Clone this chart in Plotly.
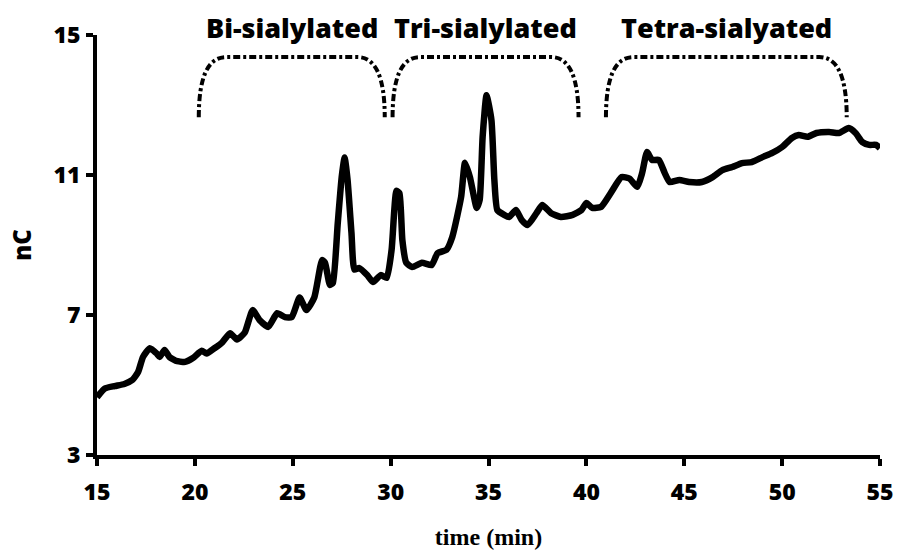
import plotly.graph_objects as go

# Chromatogram: detector response (nC) against retention time (min)
time_min = [15.0, 15.4, 15.9, 16.4, 16.8, 17.1, 17.35, 17.7, 18.05, 18.2, 18.45, 18.7, 19.1, 19.5,
            19.9, 20.35, 20.6, 21.0, 21.4, 21.8, 22.15, 22.55, 22.95, 23.3, 23.75, 24.2, 24.6, 24.95,
            25.35, 25.7, 26.1, 26.5, 26.65, 26.9, 27.05, 27.3, 27.5, 27.65, 27.8, 28.0, 28.15, 28.4,
            28.8, 29.1, 29.5, 29.8, 30.05, 30.3, 30.45, 30.6, 30.8, 31.1, 31.6, 32.1, 32.4, 32.85,
            33.15, 33.6, 33.8, 34.05, 34.4, 34.55, 34.7, 34.9, 35.15, 35.3, 35.45, 35.8, 36.05, 36.4,
            36.7, 37.0, 37.45, 37.75, 38.2, 38.7, 39.3, 39.75, 40.0, 40.3, 40.75, 41.25, 41.8, 42.2,
            42.6, 42.85, 43.1, 43.35, 43.7, 44.0, 44.25, 44.75, 45.25, 45.9, 46.45, 46.95, 47.45,
            47.95, 48.45, 49.0, 49.5, 50.0, 50.5, 50.85, 51.3, 51.75, 52.4, 52.9, 53.4, 53.75, 54.1,
            54.45, 54.8, 55.0]
signal_nc = [4.65, 4.9, 4.97, 5.03, 5.14, 5.37, 5.8, 6.05, 5.9, 5.8, 6.0, 5.8, 5.68, 5.66,
             5.77, 5.98, 5.9, 6.05, 6.22, 6.48, 6.3, 6.5, 7.14, 6.86, 6.66, 7.05, 6.94, 6.94,
             7.5, 7.14, 7.5, 8.57, 8.49, 7.86, 7.92, 9.63, 10.94, 11.5, 10.86, 9.34, 8.3, 8.34,
             8.14, 7.94, 8.14, 8.06, 8.86, 10.55, 10.48, 9.14, 8.49, 8.37, 8.49, 8.43, 8.77, 8.86,
             9.23, 10.37, 11.35, 10.94, 10.06, 10.29, 12.09, 13.28, 12.57, 10.86, 10.0, 9.86, 9.8, 10.0,
             9.71, 9.57, 9.91, 10.14, 9.91, 9.8, 9.86, 10.0, 10.2, 10.06, 10.09, 10.49, 10.94, 10.9,
             10.66, 11.06, 11.66, 11.43, 11.43, 11.06, 10.8, 10.86, 10.8, 10.8, 10.94, 11.14, 11.23,
             11.34, 11.37, 11.51, 11.63, 11.8, 12.06, 12.14, 12.09, 12.2, 12.23, 12.2, 12.34, 12.2, 11.94,
             11.86, 11.86, 11.77]

# Elution windows of the glycan groups
region_names = ["Bi-sialylated", "Tri-sialylated", "Tetra-sialyated"]
region_start = [20.2, 30.1, 41.0]
region_end = [29.7, 39.6, 53.3]

x_ticks = [15, 20, 25, 30, 35, 40, 45, 50, 55]
y_ticks = [3, 7, 11, 15]

BRACKET_LOW, BRACKET_HIGH, CORNER = 12.65, 14.37, 1.4
LABEL_Y_PAPER = 1.019  # just above the top of the y axis

HEAVY = dict(family="Open Sans", weight=800, color="black")

fig = go.Figure()
fig.add_trace(go.Scatter(
    x=time_min, y=signal_nc, mode="lines",
    line=dict(color="black", width=6.5, shape="spline", smoothing=0.5),
    showlegend=False, hoverinfo="skip", cliponaxis=False,
))

shapes, annotations = [], []
for name, x0, x1 in zip(region_names, region_start, region_end):
    path = (f"M {x0},{BRACKET_LOW} Q {x0},{BRACKET_HIGH} {x0 + CORNER},{BRACKET_HIGH} "
            f"L {x1 - CORNER},{BRACKET_HIGH} Q {x1},{BRACKET_HIGH} {x1},{BRACKET_LOW}")
    shapes.append(dict(type="path", path=path, xref="x", yref="y",
                       line=dict(color="black", width=4, dash="7px,3px,3px,3px")))
    annotations.append(dict(x=(x0 + x1) / 2, y=LABEL_Y_PAPER, xref="x", yref="paper",
                            text=name, showarrow=False, yanchor="middle",
                            font=dict(size=27, **HEAVY)))

axis_common = dict(
    showline=True, linecolor="black", linewidth=4, ticks="outside", ticklen=7, tickwidth=4,
    tickcolor="black", showgrid=False, zeroline=False, automargin=False,
    tickfont=dict(size=23, **HEAVY),
)

fig.update_layout(
    width=897, height=551, margin=dict(l=97, r=17, t=35, b=96),
    paper_bgcolor="white", plot_bgcolor="white",
    shapes=shapes, annotations=annotations,
    xaxis=dict(range=[15, 55], tickvals=x_ticks, ticklabelstandoff=6,
               title=dict(text="<b>time (min)</b>", standoff=24,
                          font=dict(family="Liberation Serif", size=24, color="black")),
               **axis_common),
    yaxis=dict(range=[3, 15], tickvals=y_ticks, ticklabelstandoff=1,
               title=dict(text="nC", standoff=16, font=dict(size=24, **HEAVY)),
               **axis_common),
)

fig.write_html("out.html")
